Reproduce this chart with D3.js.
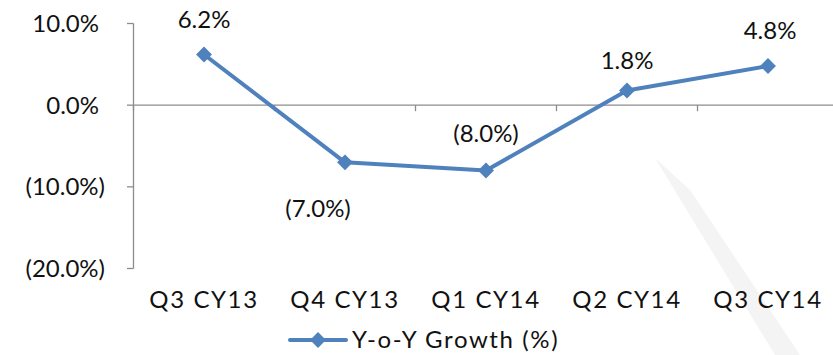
<!DOCTYPE html>
<html>
  <head>
    <meta charset="utf-8">
    <script src="https://d3js.org/d3.v7.min.js"></script>
    <style>
      body { margin: 0; background: white; font-family: Lato, "Open Sans", sans-serif; }
      svg text { fill: #111; }
    </style>
  </head>
  <body>
    <div id="chart"></div>
    <script>
      // values
      var quarters = ["Q3 CY13", "Q4 CY13", "Q1 CY14", "Q2 CY14", "Q3 CY14"];
      var growth = [6.2, -7.0, -8.0, 1.8, 4.8];
      var yTicks = [10, 0, -10, -20];
      var seriesName = "Y-o-Y Growth (%)";

      var W = 833, H = 355;
      var blue = "#4f81bd", axisGrey = "#8c8c8c";

      var svg = d3.select("#chart").append("svg")
        .attr("width", W).attr("height", H);

      // faint background swoosh
      svg.append("path")
        .attr("d", "M655,158 L690,190 L800,355 L775,355 Z")
        .attr("fill", "#f4f4f4");

      var x = d3.scaleBand().domain(quarters).range([133.5, 838.5]);
      var y = d3.scaleLinear().domain([-20, 10]).range([268.5, 23.5]);

      function fmt(v) {
        var s = Math.abs(v).toFixed(1) + "%";
        return v < 0 ? "(" + s + ")" : s;
      }

      // y axis
      svg.append("line")
        .attr("x1", 133.5).attr("x2", 133.5)
        .attr("y1", y(10)).attr("y2", y(-20))
        .attr("stroke", axisGrey).attr("stroke-width", 1.3);
      svg.selectAll(".ytick").data(yTicks).enter().append("line")
        .attr("x1", 127).attr("x2", 133.5)
        .attr("y1", function(d) { return y(d); })
        .attr("y2", function(d) { return y(d); })
        .attr("stroke", axisGrey).attr("stroke-width", 1.3);
      svg.selectAll(".ylab").data(yTicks).enter().append("text")
        .attr("x", function(d) { return d < 0 ? 105 : 99; })
        .attr("y", function(d) { return y(d); })
        .attr("dy", "0.35em")
        .attr("text-anchor", "end")
        .style("font-size", "24px")
        .text(fmt);

      // x axis on zero line
      svg.append("line")
        .attr("x1", 133.5).attr("x2", 838.5)
        .attr("y1", y(0)).attr("y2", y(0))
        .attr("stroke", axisGrey).attr("stroke-width", 1.3);
      var bounds = quarters.map(function(q) { return x(q); }).concat([x.range()[1]]);
      svg.selectAll(".xtick").data(bounds).enter().append("line")
        .attr("x1", function(d) { return d; }).attr("x2", function(d) { return d; })
        .attr("y1", y(0)).attr("y2", y(0) + 6)
        .attr("stroke", axisGrey).attr("stroke-width", 1.3);
      svg.selectAll(".xlab").data(quarters).enter().append("text")
        .attr("x", function(d) { return x(d) + x.bandwidth() / 2; })
        .attr("y", 300).attr("dy", "0.35em")
        .attr("text-anchor", "middle")
        .style("font-size", "24px")
        .style("letter-spacing", "1.6px")
        .text(function(d) { return d; });

      // series
      var pts = quarters.map(function(q, i) {
        return { q: q, v: growth[i], cx: x(q) + x.bandwidth() / 2, cy: y(growth[i]) };
      });
      svg.append("path")
        .datum(pts)
        .attr("d", d3.line().x(function(d) { return d.cx; }).y(function(d) { return d.cy; }))
        .attr("fill", "none").attr("stroke", blue)
        .attr("stroke-width", 4).attr("stroke-linejoin", "round");
      var diamond = d3.symbol().type(d3.symbolDiamond2).size(160);
      svg.selectAll(".pt").data(pts).enter().append("path")
        .attr("transform", function(d) { return "translate(" + d.cx + "," + d.cy + ")"; })
        .attr("d", diamond)
        .attr("fill", blue);

      // data labels: offsets as in the picture
      var labelPos = [
        { dx: 0, dy: -35 },
        { dx: -27, dy: 46 },
        { dx: 0, dy: -37 },
        { dx: 0, dy: -30 },
        { dx: 2, dy: -35 }
      ];
      svg.selectAll(".dl").data(pts).enter().append("text")
        .attr("x", function(d, i) { return d.cx + labelPos[i].dx; })
        .attr("y", function(d, i) { return d.cy + labelPos[i].dy; })
        .attr("dy", "0.35em")
        .attr("text-anchor", "middle")
        .style("font-size", "24px")
        .text(function(d) { return fmt(d.v); });

      // legend
      var lg = svg.append("g").attr("transform", "translate(290,340)");
      lg.append("line").attr("x1", 0).attr("x2", 56).attr("y1", 0).attr("y2", 0)
        .attr("stroke", blue).attr("stroke-width", 4).attr("stroke-linecap", "round");
      lg.append("path").attr("transform", "translate(28,0)").attr("d", diamond).attr("fill", blue);
      lg.append("text").attr("x", 62).attr("y", 0).attr("dy", "0.35em")
        .style("font-size", "24px")
        .style("letter-spacing", "1.6px")
        .text(seriesName);
    </script>
  </body>
</html>
